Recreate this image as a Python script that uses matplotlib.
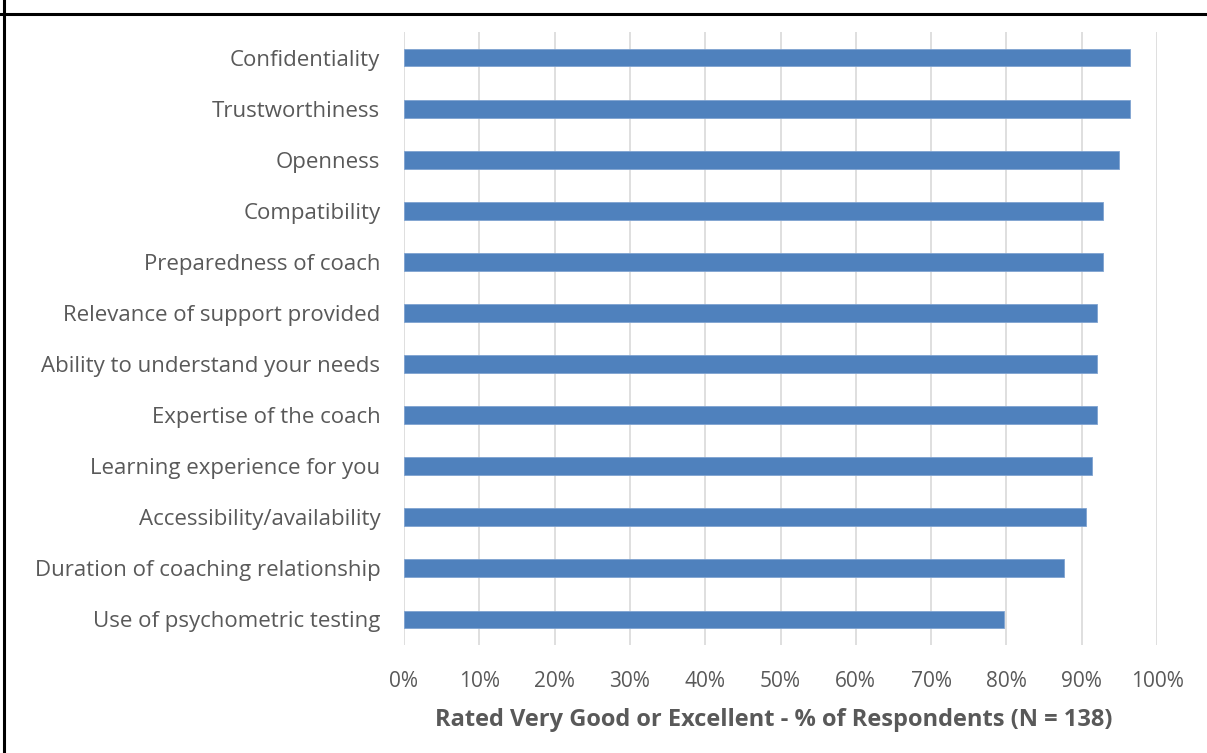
import matplotlib
matplotlib.use('Agg')
import matplotlib.pyplot as plt
from matplotlib.lines import Line2D
from matplotlib.ticker import FuncFormatter

plt.rcParams['font.family'] = ['Open Sans', 'DejaVu Sans']

categories = ['Confidentiality', 'Trustworthiness', 'Openness', 'Compatibility',
              'Preparedness of coach', 'Relevance of support provided',
              'Ability to understand your needs', 'Expertise of the coach',
              'Learning experience for you', 'Accessibility/availability',
              'Duration of coaching relationship', 'Use of psychometric testing']
values = [96.4, 96.4, 94.9, 92.8, 92.8, 92.0, 92.0, 92.0, 91.3, 90.6, 87.7, 79.7]
xticks = [0, 10, 20, 30, 40, 50, 60, 70, 80, 90, 100]
xlabel = 'Rated Very Good or Excellent - % of Respondents (N = 138)'

TXT = '#595959'

fig = plt.figure(figsize=(12.07, 7.53), dpi=100)
ax = fig.add_axes([0.3347, 0.1434, 0.6239, 0.8141])

ypos = list(range(len(categories)))
ax.barh(ypos, values, height=0.35, color='#4F81BD', edgecolor='#7FA3D1',
        linewidth=0.6, zorder=3)

ax.set_xlim(0, 100)
ax.set_ylim(len(categories) - 0.5, -0.5)
ax.set_yticks(ypos)
ax.set_yticklabels(categories)
ax.set_xticks(xticks)
ax.xaxis.set_major_formatter(FuncFormatter(lambda v, p: '%d%%' % v))
ax.tick_params(axis='both', length=0, labelcolor=TXT)
ax.tick_params(axis='y', pad=17, labelsize=16)
ax.tick_params(axis='x', pad=19, labelsize=15)
ax.grid(axis='x', color='#D9D9D9', linewidth=1.2, zorder=0)
for s in ax.spines.values():
    s.set_visible(False)

ax.set_xlabel(xlabel, fontsize=17, fontweight='bold', color=TXT, labelpad=11)
ax.xaxis.label.set_x(0.491)

# frame lines around the chart image
fig.add_artist(Line2D([4 / 1207, 4 / 1207], [0, 1], transform=fig.transFigure,
                      color='black', linewidth=2.2))
fig.add_artist(Line2D([0, 1], [1 - 14 / 753, 1 - 14 / 753], transform=fig.transFigure,
                      color='black', linewidth=2.2))

fig.savefig('out.png', dpi=100)
